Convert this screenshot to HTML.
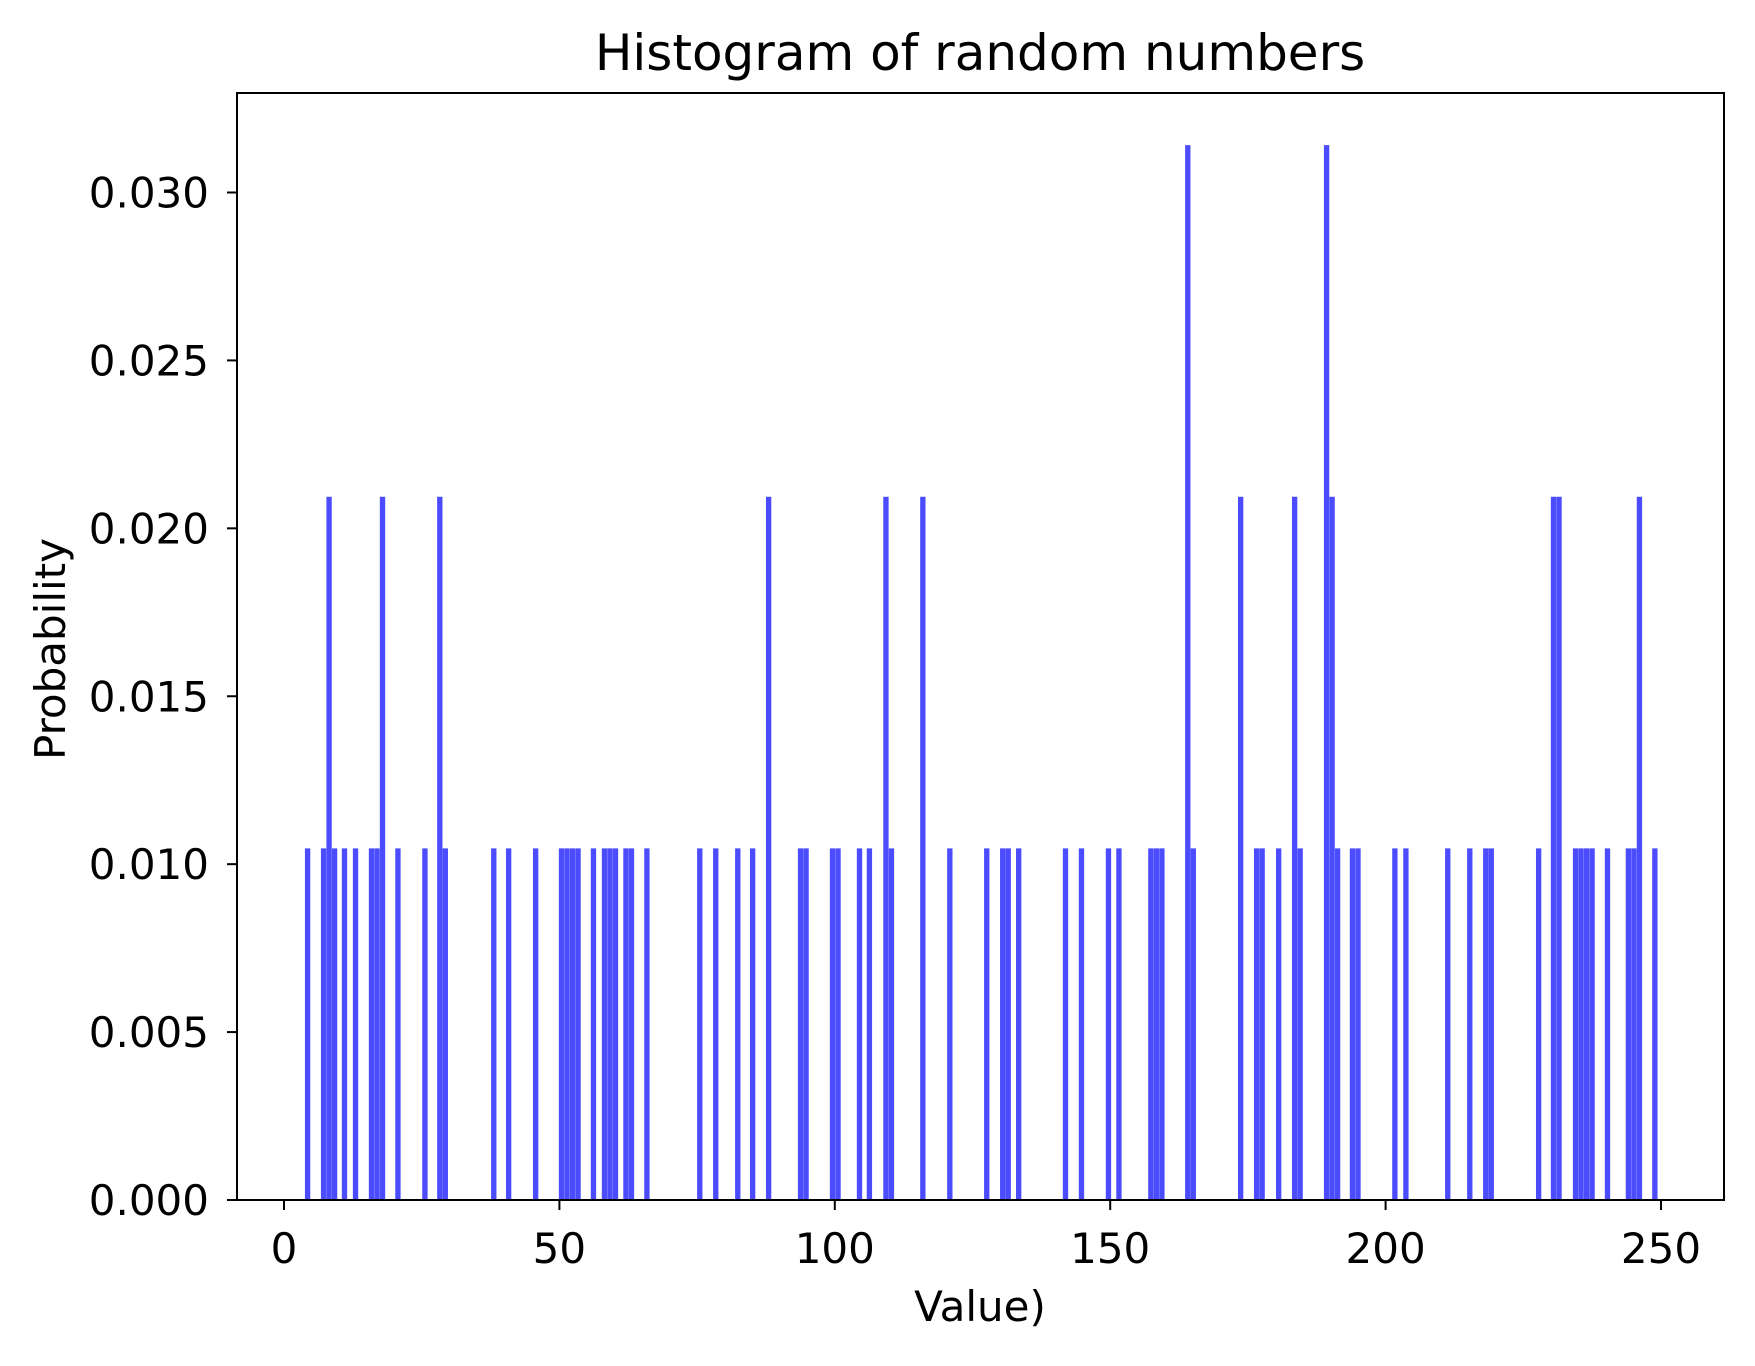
<!DOCTYPE html>
<html><head><meta charset="utf-8"><style>
html,body{margin:0;padding:0;background:#fff;}
svg text{font-family:"DejaVu Sans","Liberation Sans",sans-serif;fill:#000;}
</style></head><body>
<svg id="chart" width="1755" height="1361" viewBox="0 0 1755 1361" xmlns="http://www.w3.org/2000/svg">
<rect width="1755" height="1361" fill="#fff"/>
<g id="bars"></g>
<rect x="237" y="93" width="1487" height="1107" fill="none" stroke="#000" stroke-width="2"/>
<g id="xticks"></g>
<g id="yticks"></g>
<text x="980" y="70" font-size="50" text-anchor="middle">Histogram of random numbers</text>
<text x="980" y="1321" font-size="42" text-anchor="middle">Value)</text>
<text x="0" y="0" font-size="42" text-anchor="middle" transform="translate(65,649) rotate(-90)">Probability</text>
</svg>
<script>
// bin left edges (data units) and counts per bin
const binStarts = [3.8,6.7,7.7,8.7,10.5,12.5,15.4,16.4,17.4,20.2,25.1,27.8,28.8,37.6,40.3,45.2,49.9,50.9,51.9,52.9,55.7,57.7,58.7,59.7,61.6,62.6,
65.4,75.0,77.9,81.9,84.6,87.5,93.3,94.3,99.1,100.1,104.0,105.8,108.8,109.8,115.5,120.4,
127.1,130.0,131.0,132.9,141.4,144.3,149.2,151.1,156.9,157.9,158.9,163.6,164.6,173.2,176.1,177.1,180.1,183.0,184.0,
188.8,189.8,190.8,193.5,194.5,201.2,203.2,210.8,214.8,217.7,218.7,227.3,230.0,231.0,234.0,235.0,236.0,237.0,239.8,243.6,244.6,245.6,248.4];
const binCounts = [1,1,2,1,1,1,1,1,2,1,1,2,1,1,1,1,1,1,1,1,1,1,1,1,1,1,
1,1,1,1,1,2,1,1,1,1,1,1,2,1,2,1,
1,1,1,1,1,1,1,1,1,1,1,3,1,2,1,1,1,2,1,
3,2,1,1,1,1,1,1,1,1,1,1,2,2,1,1,1,1,1,1,1,2,1];
const binWidth = 0.97;
const probPerCount = 0.01047;
const xTicks = [0,50,100,150,200,250];
const yTicks = [0,0.005,0.010,0.015,0.020,0.025,0.030];
const yTickLabels = ["0.000","0.005","0.010","0.015","0.020","0.025","0.030"];

const NS="http://www.w3.org/2000/svg";
function xs(v){return 284 + v*(1661-284)/250;}
function ys(v){return 1200 - v*(1200-192.5)/0.03;}
const gb=document.getElementById('bars');
binStarts.forEach((s,i)=>{
  const r=document.createElementNS(NS,'rect');
  const x0=xs(s), x1=xs(s+binWidth), y=ys(binCounts[i]*probPerCount);
  r.setAttribute('x',x0);r.setAttribute('width',x1-x0);
  r.setAttribute('y',y);r.setAttribute('height',1200-y);
  r.setAttribute('fill','#4c4cff');
  
  
  gb.appendChild(r);
});
const gx=document.getElementById('xticks');
xTicks.forEach(t=>{
  const l=document.createElementNS(NS,'line');
  l.setAttribute('x1',xs(t));l.setAttribute('x2',xs(t));l.setAttribute('y1',1200);l.setAttribute('y2',1210);
  l.setAttribute('stroke','#000');l.setAttribute('stroke-width','2');
  
  
  gx.appendChild(l);
  const tx=document.createElementNS(NS,'text');
  tx.setAttribute('x',xs(t));tx.setAttribute('y',1263);tx.setAttribute('font-size','42');tx.setAttribute('text-anchor','middle');
  tx.textContent=String(t);
  
  
  gx.appendChild(tx);
});
const gy=document.getElementById('yticks');
yTicks.forEach((t,i)=>{
  const l=document.createElementNS(NS,'line');
  l.setAttribute('x1',227);l.setAttribute('x2',237);l.setAttribute('y1',ys(t));l.setAttribute('y2',ys(t));
  l.setAttribute('stroke','#000');l.setAttribute('stroke-width','2');
  
  
  gy.appendChild(l);
  const tx=document.createElementNS(NS,'text');
  tx.setAttribute('x',209);tx.setAttribute('y',ys(t)+15);tx.setAttribute('font-size','42');tx.setAttribute('text-anchor','end');
  tx.textContent=yTickLabels[i];
  
  
  gy.appendChild(tx);
});
</script>
</body></html>
